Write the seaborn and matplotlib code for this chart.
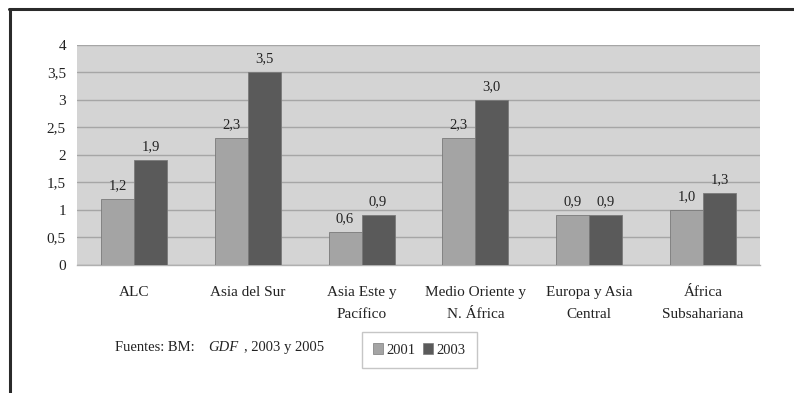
import matplotlib
matplotlib.use("Agg")
import matplotlib.pyplot as plt
from matplotlib.lines import Line2D
import seaborn as sns
import pandas as pd

# Regions and values (percent)
regions = ["ALC", "Asia del Sur", "Asia Este y\nPacífico", "Medio Oriente y\nN. África",
           "Europa y Asia\nCentral", "África\nSubsahariana"]
years = ["2001", "2003"]
values_2001 = [1.2, 2.3, 0.6, 2.3, 0.9, 1.0]
values_2003 = [1.9, 3.5, 0.9, 3.0, 0.9, 1.3]
y_ticks = [0, 0.5, 1, 1.5, 2, 2.5, 3, 3.5, 4]

df = pd.DataFrame({
    "region": regions * 2,
    "year": [years[0]] * len(regions) + [years[1]] * len(regions),
    "value": values_2001 + values_2003,
})

sns.set_theme(style="white")
plt.rcParams["font.family"] = ["Liberation Serif", "DejaVu Serif"]
plt.rcParams["font.size"] = 10.5

fig = plt.figure(figsize=(7.94, 3.93), dpi=100)
ax = fig.add_axes([0.097, 0.3257, 0.86, 0.560])
ax.set_facecolor("#d4d4d4")

palette = {"2001": "#a4a4a4", "2003": "#5a5a5a"}
sns.barplot(data=df, x="region", y="value", hue="year", palette=palette,
            width=0.58, gap=0, ax=ax, edgecolor="#7a7a7a", linewidth=0.6,
            saturation=1, legend=False, zorder=3)

for cont in ax.containers:
    ax.bar_label(cont, labels=[f"{v:.1f}".replace(".", ",") for v in cont.datavalues],
                 padding=5, fontsize=10.5, color="#222222")

ax.set_ylim(0, 4)
ax.set_xlim(-0.5, len(regions) - 0.5)
ax.set_yticks(y_ticks)
ax.set_yticklabels([f"{t:g}".replace(".", ",") for t in y_ticks])
ax.yaxis.grid(True, color="#a6a6a6", linewidth=1.0, zorder=0)
ax.set_axisbelow(True)
ax.set_xlabel("")
ax.set_ylabel("")

for side in ["top", "right", "left"]:
    ax.spines[side].set_visible(False)
ax.spines["bottom"].set_color("#b0b0b0")
ax.spines["bottom"].set_linewidth(1.0)

ax.set_xticks(range(len(regions)))
ax.set_xticklabels(regions, linespacing=1.9, color="#222222")
ax.set_xticks([i - 0.5 for i in range(len(regions) + 1)], minor=True)
ax.tick_params(axis="x", which="major", length=0, pad=15)
ax.tick_params(axis="x", which="minor", length=4, color="#b0b0b0", width=1)
ax.tick_params(axis="y", length=3, color="#b0b0b0", pad=5, labelcolor="#222222")

# Source note
fig.text(0.145, 0.117, "Fuentes: BM:", fontsize=10.5, color="#222222", va="center")
fig.text(0.262, 0.117, "GDF", fontsize=10.5, style="italic", color="#222222", va="center")
fig.text(0.307, 0.117, ", 2003 y 2005", fontsize=10.5, color="#222222", va="center")

# Legend
handles = [plt.Rectangle((0, 0), 1, 1, facecolor=palette[y], edgecolor="#7a7a7a", linewidth=0.5)
           for y in years]
leg = fig.legend(handles, years, loc="center", bbox_to_anchor=(0.528, 0.1094),
                 ncol=2, frameon=True, fancybox=False, fontsize=10.5,
                 handlelength=0.7, handleheight=0.7, handletextpad=0.25,
                 columnspacing=0.5, borderpad=0.75, borderaxespad=0)
leg.get_frame().set_edgecolor("#b8b8b8")
leg.get_frame().set_linewidth(1.0)

# Outer frame lines
fig.add_artist(Line2D([0.011, 1.0], [0.976, 0.976], color="#2a2a2a", linewidth=2.2,
                      transform=fig.transFigure))
fig.add_artist(Line2D([0.012, 0.012], [0.0, 0.976], color="#2a2a2a", linewidth=2.2,
                      transform=fig.transFigure))

fig.savefig("out.png", dpi=100)
